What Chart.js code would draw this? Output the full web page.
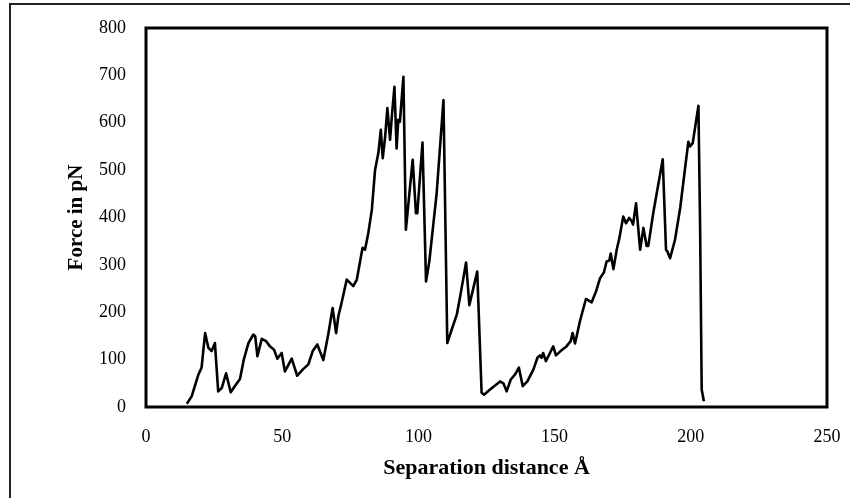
<!DOCTYPE html>
<html>
<head>
<meta charset="utf-8">
<script src="https://cdn.jsdelivr.net/npm/chart.js@4.4.1/dist/chart.umd.min.js"></script>
<style>
    html, body { margin: 0; padding: 0; background: #fff; }
    #wrap { width: 850px; height: 498px; position: relative; }
</style>
</head>
<body>
<div id="wrap"><canvas id="forceChart"></canvas></div>
<script>
// separation distance (Å) and pulling force (pN)
const distance = [
    15.0, 16.8, 17.6, 19.2, 20.4, 21.7, 22.9, 24.1, 25.3, 26.5, 27.8, 29.4, 31.1, 32.7, 34.5, 35.9,
    37.6, 39.4, 40.1, 40.9, 42.5, 44.1, 45.5, 47.0, 48.2, 49.8, 51.0, 53.5, 55.5, 57.7, 59.6, 61.2,
    62.9, 65.1, 66.9, 68.5, 69.8, 70.6, 71.8, 73.7, 74.9, 76.1, 77.4, 79.5, 80.4, 81.6, 82.9, 84.1,
    85.3, 86.2, 86.9, 87.8, 88.6, 89.6, 90.3, 91.2, 92.0, 92.6, 93.2, 94.5, 95.4, 96.7, 97.9, 99.1,
    99.6, 101.5, 102.8, 104.0, 106.7, 109.2, 110.6, 112.2, 114.1, 115.3, 117.5, 118.7, 121.6, 123.2,
    124.1, 126.3, 130.0, 131.2, 132.4, 133.9, 135.5, 136.9, 138.3, 140.0, 142.2, 143.7, 144.6, 145.2,
    145.8, 146.8, 148.3, 149.5, 150.5, 152.2, 154.2, 155.9, 156.6, 157.5, 159.3, 161.5, 163.6, 165.2,
    166.7, 168.1, 169.1, 170.1, 170.6, 171.6, 172.8, 173.8, 175.2, 176.2, 177.4, 178.3, 178.8, 179.9,
    181.4, 182.6, 183.8, 184.4, 186.2, 189.7, 190.9, 191.4, 192.4, 194.2, 196.1, 199.1, 199.7, 200.7,
    202.8, 203.4, 204.0, 204.8
];
const force = [
    7, 23, 38, 68, 83, 156, 125, 118, 135, 33, 40, 71, 31, 45, 59, 100,
    135, 153, 149, 107, 144, 139, 128, 121, 102, 114, 75, 102, 66, 80, 90, 118,
    132, 99, 153, 209, 156, 191, 220, 269, 262, 255, 269, 336, 332, 367, 416, 501,
    536, 585, 525, 571, 631, 564, 617, 676, 546, 606, 602, 697, 374, 451, 522, 409,
    409, 558, 265, 307, 451, 648, 135, 163, 195, 232, 305, 215, 286, 30,
    26, 37, 54, 50, 33, 58, 69, 83, 44, 54, 79, 104, 109, 104,
    114, 97, 114, 128, 109, 118, 127, 139, 156, 134, 181, 228, 221, 244,
    272, 284, 307, 309, 324, 291, 332, 357, 402, 388, 399, 392, 385, 430,
    332, 378, 340, 340, 409, 523, 332, 328, 314, 353, 420, 560, 550, 557,
    636, 388, 37, 12
];

const xTicks = [0, 50, 100, 150, 200, 250];
const yTicks = [0, 100, 200, 300, 400, 500, 600, 700, 800];

const points = distance.map((d, i) => ({ x: d, y: force[i] }));

// outer page frame plus the heavy box round the plot area
const frames = {
    id: 'frames',
    afterDraw(chart) {
        const ctx = chart.ctx;
        const a = chart.chartArea;
        ctx.save();
        ctx.strokeStyle = '#222';
        ctx.lineWidth = 2;
        ctx.strokeRect(10, 4, 900, 600);
        ctx.strokeStyle = '#000';
        ctx.lineWidth = 3;
        ctx.strokeRect(a.left, a.top, a.right - a.left, a.bottom - a.top);
        ctx.restore();
    }
};

const serif = "'Liberation Serif', 'Times New Roman', serif";

new Chart(document.getElementById('forceChart'), {
    type: 'line',
    data: {
        datasets: [{
            data: points,
            borderColor: '#000',
            borderWidth: 2.6,
            borderJoinStyle: 'round',
            pointRadius: 0,
            tension: 0,
            fill: false
        }]
    },
    options: {
        responsive: true,
        maintainAspectRatio: false,
        animation: false,
        layout: { padding: { left: 0, top: 28, right: 23, bottom: 0 } },
        plugins: { legend: { display: false }, tooltip: { enabled: false } },
        scales: {
            x: {
                type: 'linear',
                min: 0,
                max: 250,
                afterBuildTicks: (axis) => { axis.ticks = xTicks.map(v => ({ value: v })); },
                afterFit: (axis) => {
                    axis.height = 91;
                    axis.paddingLeft = 0;
                    axis.paddingRight = 0;
                },
                grid: { display: false, drawTicks: false },
                border: { display: false },
                ticks: { color: '#000', padding: 19, font: { family: serif, size: 18 } },
                title: {
                    display: true,
                    text: 'Separation distance Å',
                    color: '#000',
                    padding: { top: 0, bottom: 16 },
                    font: { family: serif, size: 22, weight: 'bold' }
                }
            },
            y: {
                min: 0,
                max: 800,
                afterBuildTicks: (axis) => { axis.ticks = yTicks.map(v => ({ value: v })); },
                afterFit: (axis) => {
                    axis.width = 146;
                    axis.paddingTop = 0;
                    axis.paddingBottom = 0;
                },
                grid: { display: false, drawTicks: false },
                border: { display: false },
                ticks: { color: '#000', padding: 20, font: { family: serif, size: 18 } },
                title: {
                    display: true,
                    text: 'Force in pN',
                    color: '#000',
                    padding: { top: 64, bottom: 0 },
                    font: { family: serif, size: 21, weight: 'bold' }
                }
            }
        }
    },
    plugins: [frames]
});
</script>
</body>
</html>
